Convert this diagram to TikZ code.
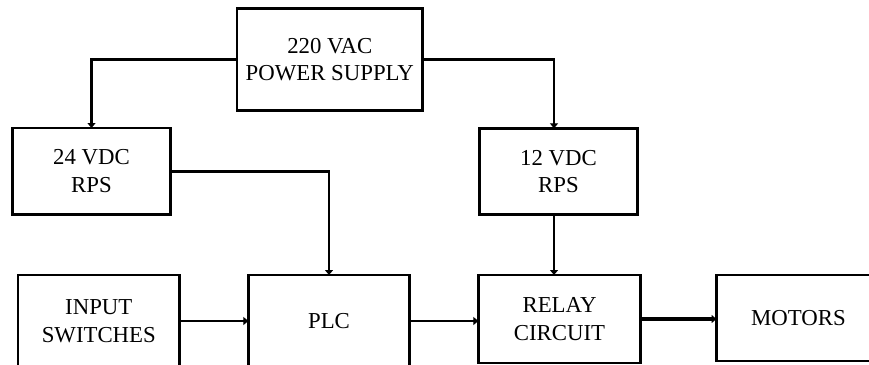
\documentclass[tikz,border=0pt]{standalone}
\usepackage{fontspec}
\setmainfont{Liberation Serif}
\usetikzlibrary{arrows.meta}
\begin{document}
\begin{tikzpicture}[x=1pt,y=-1pt,
  blk/.style={draw,line width=2.7pt,inner sep=0pt,outer sep=0pt,align=center,
    font=\fontsize{22.8}{27.7}\selectfont},
  arr/.style={line width=2.7pt,-{Triangle[width=8pt,length=5pt]}}]
\clip (0,0) rectangle (869,364);
\useasboundingbox (0,0) rectangle (869,364);
\fill[white] (0,0) rectangle (869,364);
% top and middle rows
\node[blk,minimum width=185.7pt,minimum height=102pt] (ps) at (329.8,59.7) {220 VAC\\POWER SUPPLY};
\node[blk,minimum width=158.3pt,minimum height=86.6pt] (v24) at (91.5,171.3) {24 VDC\\RPS};
\node[blk,minimum width=158.3pt,minimum height=86.3pt] (v12) at (558.5,171.5) {12 VDC\\RPS};
% bottom row
\node[blk,minimum width=161.6pt,minimum height=92pt] (inp) at (98.8,321) {INPUT\\SWITCHES};
\node[blk,minimum width=161.3pt,minimum height=92pt] (plc) at (329,321) {PLC};
\node[blk,minimum width=162.3pt,minimum height=88pt] (relay) at (559.5,319) {RELAY\\CIRCUIT};
\node[blk,minimum width=164pt,minimum height=86pt] (mot) at (798.5,318) {MOTORS};
% connectors
\draw[arr] (ps.west) -| (v24.north);
\draw[arr] (ps.east) -| ([xshift=-4.5pt]v12.north);
\draw[arr] (v24.east) -| (plc.north);
\draw[arr] ([xshift=-4.5pt]v12.south) -- ([xshift=-4.5pt]v12.south |- relay.north);
\draw[arr] (inp.east) -- (plc.west);
\draw[arr] (plc.east) -- (plc.east -| relay.west);
\draw[arr,line width=3.3pt] (relay.east) -- (relay.east -| mot.west);
\end{tikzpicture}
\end{document}
